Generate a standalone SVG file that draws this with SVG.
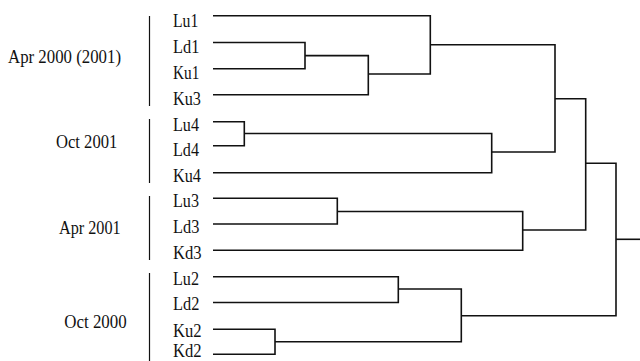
<svg xmlns="http://www.w3.org/2000/svg" width="640" height="361" viewBox="0 0 640 361">
<style>
text{font-family:"Liberation Serif","Times New Roman",serif;font-size:18px;fill:#111}
.c{fill:none;stroke:#111;stroke-width:1.6}
.b{stroke:#111;stroke-width:1.2}
</style>
<rect width="640" height="361" fill="#fff"/>
<g id="groups">
<g id="g1"><line class="b" x1="149.5" y1="16" x2="149.5" y2="106"/><text x="8" y="63.3" textLength="113" lengthAdjust="spacingAndGlyphs">Apr 2000 (2001)</text></g>
<g id="g2"><line class="b" x1="149.5" y1="119" x2="149.5" y2="183"/><text x="56" y="148.3" textLength="61.3" lengthAdjust="spacingAndGlyphs">Oct 2001</text></g>
<g id="g3"><line class="b" x1="149.5" y1="196" x2="149.5" y2="260"/><text x="59" y="234" textLength="61.7" lengthAdjust="spacingAndGlyphs">Apr 2001</text></g>
<g id="g4"><line class="b" x1="149.5" y1="273" x2="149.5" y2="361"/><text x="64.3" y="328.3" textLength="62.4" lengthAdjust="spacingAndGlyphs">Oct 2000</text></g>
</g>
<g id="leaves">
<g id="Lu1"><text x="173" y="27" textLength="25.3" lengthAdjust="spacingAndGlyphs">Lu1</text></g>
<g id="Ld1"><text x="173" y="53" textLength="26.3" lengthAdjust="spacingAndGlyphs">Ld1</text></g>
<g id="Ku1"><text x="173" y="79" textLength="26.3" lengthAdjust="spacingAndGlyphs">Ku1</text></g>
<g id="Ku3"><text x="173" y="104.5" textLength="28" lengthAdjust="spacingAndGlyphs">Ku3</text></g>
<g id="Lu4"><text x="173" y="131" textLength="26" lengthAdjust="spacingAndGlyphs">Lu4</text></g>
<g id="Ld4"><text x="173" y="156" textLength="26" lengthAdjust="spacingAndGlyphs">Ld4</text></g>
<g id="Ku4"><text x="173" y="182" textLength="28" lengthAdjust="spacingAndGlyphs">Ku4</text></g>
<g id="Lu3"><text x="173" y="207" textLength="26" lengthAdjust="spacingAndGlyphs">Lu3</text></g>
<g id="Ld3"><text x="173" y="233" textLength="26.3" lengthAdjust="spacingAndGlyphs">Ld3</text></g>
<g id="Kd3"><text x="173" y="259" textLength="28.6" lengthAdjust="spacingAndGlyphs">Kd3</text></g>
<g id="Lu2"><text x="173" y="284.5" textLength="26" lengthAdjust="spacingAndGlyphs">Lu2</text></g>
<g id="Ld2"><text x="173" y="310" textLength="26.3" lengthAdjust="spacingAndGlyphs">Ld2</text></g>
<g id="Ku2"><text x="173" y="336.5" textLength="28.6" lengthAdjust="spacingAndGlyphs">Ku2</text></g>
<g id="Kd2"><text x="173" y="357" textLength="28.6" lengthAdjust="spacingAndGlyphs">Kd2</text></g>
</g>
<g id="connectors">
<path class="c" d="M213 42.5H305V68.7H213"/>
<path class="c" d="M305 55.6H368.3V94.7H213"/>
<path class="c" d="M213 15.8H430.3V74H368.3"/>
<path class="c" d="M213 121.7H244.3V145.7H213"/>
<path class="c" d="M244.3 133.5H491.7V172.8H213"/>
<path class="c" d="M430.3 44.7H555V152H491.7"/>
<path class="c" d="M213 198.3H337.3V224H213"/>
<path class="c" d="M337.3 211.5H522.7V250.3H213"/>
<path class="c" d="M555 98.7H585.7V230H522.7"/>
<path class="c" d="M213 276.7H398.3V302.5H213"/>
<path class="c" d="M213 329.3H275V354.3H213"/>
<path class="c" d="M398.3 289H461.3V341.7H275"/>
<path class="c" d="M585.7 163.3H616V315.7H461.3"/>
<path class="c" d="M616 239.3H640"/>
</g>
</svg>
